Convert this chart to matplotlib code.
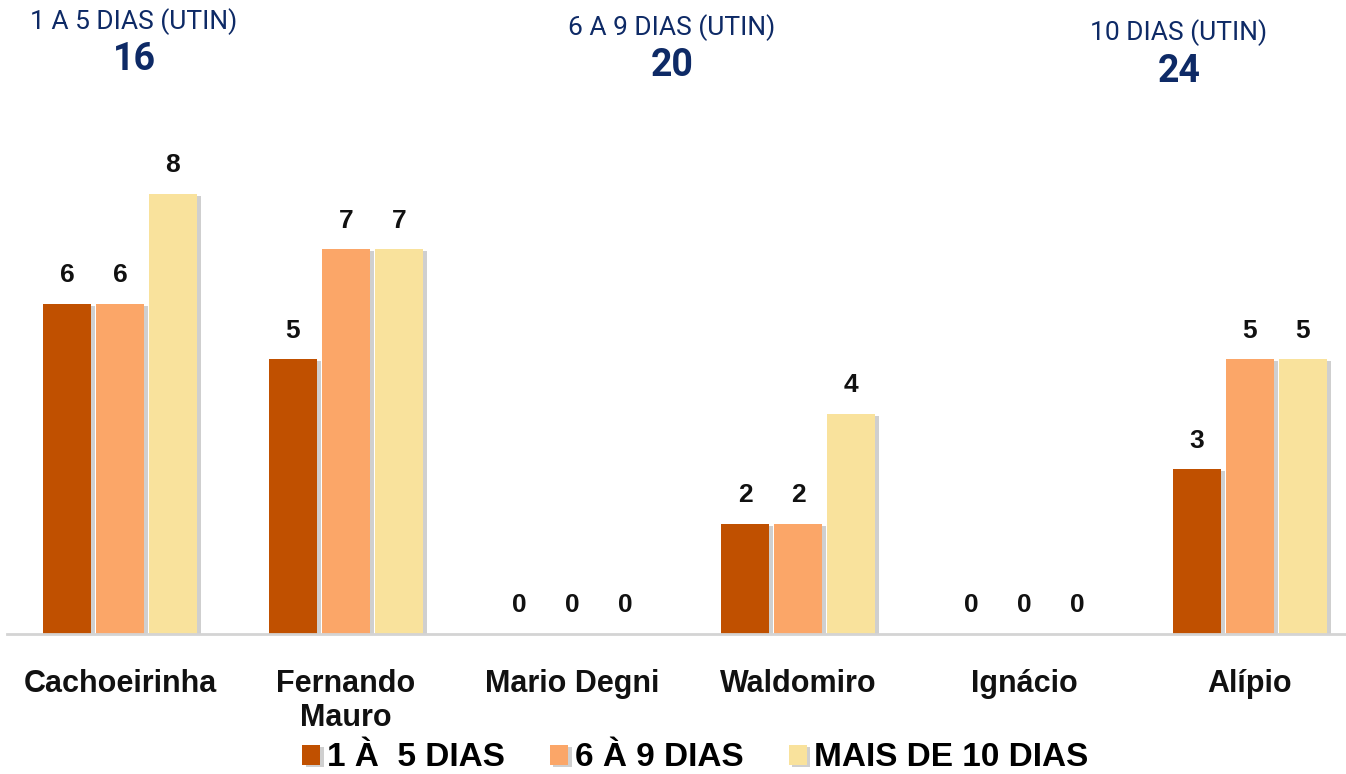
import numpy as np
import matplotlib.pyplot as plt
import matplotlib.patheffects as pe

# dados
categorias = ['Cachoeirinha', 'Fernando\nMauro', 'Mario Degni', 'Waldomiro', 'Ignácio', 'Alípio']
dias_1a5 = [6, 5, 0, 2, 0, 3]
dias_6a9 = [6, 7, 0, 2, 0, 5]
dias_10mais = [8, 7, 0, 4, 0, 5]
series_nomes = ['1 À  5 DIAS', '6 À 9 DIAS', 'MAIS DE 10 DIAS']
cores = ['#C05000', '#FBA668', '#F9E29C']

topo_titulos = ['1 A 5 DIAS (UTIN)', '6 A 9 DIAS (UTIN)', '10 DIAS (UTIN)']
topo_valores = ['16', '20', '24']

navy = '#0E2A66'

fig = plt.figure(figsize=(13.46, 7.74), dpi=100)
ax = fig.add_axes([7/1346, 140/774, 1339/1346, 495/774])

x = np.arange(len(categorias))
passo = 0.2345
larg = 0.215
sombra = [pe.SimplePatchShadow(offset=(2.5, -1.5), shadow_rgbFace='#cfcfcf', alpha=1), pe.Normal()]

for k, (vals, nome, cor) in enumerate(zip([dias_1a5, dias_6a9, dias_10mais], series_nomes, cores)):
    pos = x + (k - 1) * passo
    barras = ax.bar(pos, vals, larg, color=cor, label=nome, zorder=2)
    for b in barras:
        b.set_path_effects(sombra)
    for p, v in zip(pos, vals):
        ax.text(p, v + 0.3, str(v), ha='center', va='bottom', fontsize=19,
                fontweight='bold', family='Liberation Sans', color='#111111')

ax.set_xlim(-0.5, -0.5 + 1339/226)
ax.set_ylim(0, 9)
ax.set_yticks([])
ax.set_xticks(x)
ax.set_xticklabels(categorias, fontsize=22, fontweight='bold', family='Liberation Sans',
                   color='#111111', linespacing=1.2)
ax.tick_params(axis='x', length=0, pad=25)
for s in ['top', 'right', 'left']:
    ax.spines[s].set_visible(False)
ax.spines['bottom'].set_color('#d4d4d4')
ax.spines['bottom'].set_linewidth(2)

# cabeçalho
topo_x = [134, 672, 1179]
topo_y = [22, 28, 33]
for tx, ty, t, v in zip(topo_x, topo_y, topo_titulos, topo_valores):
    fig.text(tx/1346, 1 - ty/774, t, ha='center', va='center', fontsize=19,
             family='Roboto', color=navy)
    fig.text(tx/1346, 1 - (ty + 38)/774, v, ha='center', va='center', fontsize=27,
             family='Roboto', fontweight='bold', color=navy)

leg = fig.legend(loc='center', bbox_to_anchor=(695/1346, 1 - 758/774), ncol=3, frameon=False,
                 prop={'family': 'Liberation Sans', 'weight': 'bold', 'size': 24},
                 handlelength=0.55, handleheight=0.55, handletextpad=0.2, columnspacing=1.35)

fig.savefig('out.png', dpi=100)
